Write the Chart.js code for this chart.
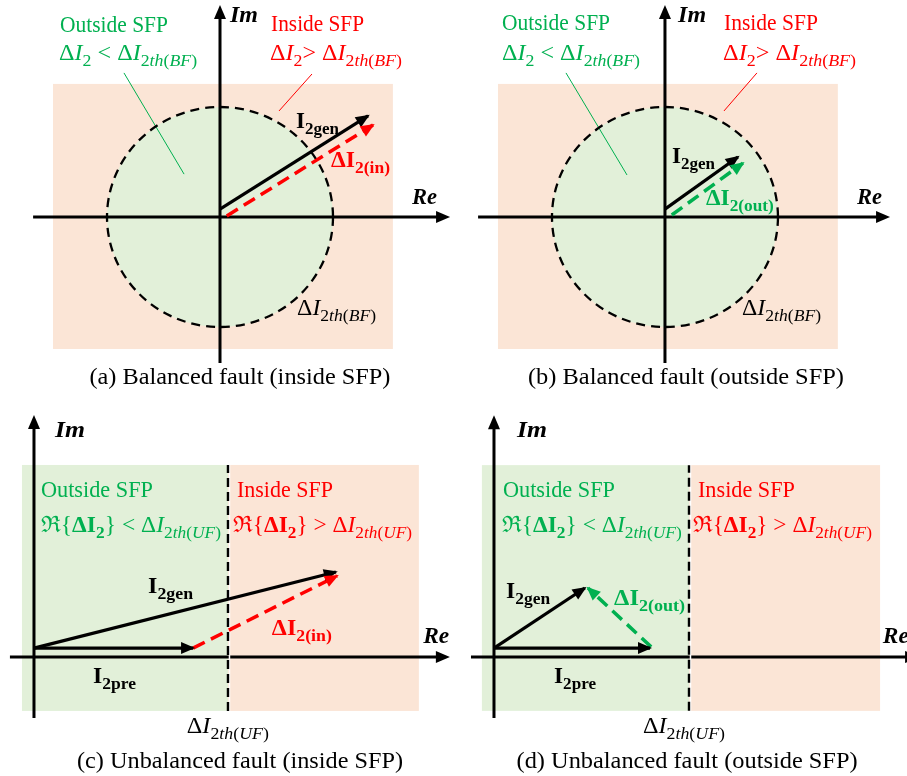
<!DOCTYPE html>
<html>
<head>
<meta charset="utf-8">
<script src="https://cdn.jsdelivr.net/npm/chart.js@4"></script>
<style>
  body { margin: 0; background: #fff; width: 907px; height: 776px; position: relative; overflow: hidden; }
  canvas { position: absolute; }
</style>
</head>
<body>
<canvas id="pa" width="453" height="395" style="left:0;top:0"></canvas>
<canvas id="pb" width="454" height="395" style="left:453px;top:0"></canvas>
<canvas id="pc" width="453" height="381" style="left:0;top:395px"></canvas>
<canvas id="pd" width="454" height="381" style="left:453px;top:395px"></canvas>
<script>
// Thresholds
const thBF = 5;   // ΔI2th(BF), circle radius
const thUF = 5;   // ΔI2th(UF), real-part limit

// Phasors [start, end] in (Re, Im)
const genA = [[0, 0.36], [6.55, 4.6]];
const dA   = [[0.3, 0.05], [6.77, 4.18]];
const genB = [[0, 0.36], [3.23, 2.73]];
const dB   = [[0.3, 0.09], [3.45, 2.45]];
const preC = [[0, 0.23], [4.1, 0.23]];
const genC = [[0, 0.23], [7.78, 2.19]];
const dC   = [[4.1, 0.23], [7.81, 2.09]];
const preD = [[0, 0.23], [4.0, 0.23]];
const genD = [[0, 0.23], [2.33, 1.77]];
const dD   = [[4.03, 0.26], [2.41, 1.77]];

// Colours
const black = "#000000";
const green = "#00B050";
const red = "#FF0000";
const greenFill = "#E2F0D9";
const pinkFill = "#FBE5D6";

const fam = '"Liberation Serif", "DejaVu Serif", serif';

// rich text pieces: r regular, i italic, b bold, bi bold italic, s* subscript
const mBF = (op) => [["Δ","r"],["I","i"],["2","s"],[op,"r"],["Δ","r"],["I","i"],["2","s"],["th","si"],["(","s"],["BF","si"],[")","s"]];
const mUF = (op) => [["ℜ{","r"],["ΔI","b"],["2","sb"],["} " + op + " ","r"],["Δ","r"],["I","i"],["2","s"],["th","si"],["(","s"],["UF","si"],[")","s"]];
const thLabel = (t) => [["Δ","r"],["I","i"],["2","s"],["th","si"],["(","s"],[t,"si"],[")","s"]];
const vec = (main, sub) => [[main,"b"],[sub,"sb"]];

function fontFor(st, fs) {
  const sub = st.startsWith("s");
  const size = sub ? fs * 0.74 : fs;
  const b = st.includes("b") ? "bold " : "";
  const i = st.includes("i") ? "italic " : "";
  return i + b + size + "px " + fam;
}

function drawLabel(chart, lb) {
  const { ctx, scales: { x, y } } = chart;
  const px = x.getPixelForValue(lb.at[0]);
  const py = y.getPixelForValue(lb.at[1]);
  const fs = lb.fs || 22.5;
  ctx.save();
  ctx.fillStyle = lb.color || black;
  ctx.textBaseline = "alphabetic";
  let nat = 0;
  lb.parts.forEach(([t, st]) => { ctx.font = fontFor(st, fs); nat += ctx.measureText(t).width; });
  const k = lb.w ? lb.w / nat : 1;
  const left = lb.align === "center" ? px - nat * k / 2 : px;
  ctx.translate(left, py);
  ctx.scale(k, 1);
  let cx = 0;
  lb.parts.forEach(([t, st]) => {
    ctx.font = fontFor(st, fs);
    ctx.fillText(t, cx, st.startsWith("s") ? fs * 0.26 : 0);
    cx += ctx.measureText(t).width;
  });
  ctx.restore();
}

function arrowHead(ctx, x0, y0, x1, y1, color, len, half) {
  const a = Math.atan2(y1 - y0, x1 - x0);
  const c = Math.cos(a), s = Math.sin(a);
  const tx = x1 + c * 2, ty = y1 + s * 2;
  ctx.save();
  ctx.fillStyle = color;
  ctx.beginPath();
  ctx.moveTo(tx, ty);
  ctx.lineTo(tx - len * c + half * s, ty - len * s - half * c);
  ctx.lineTo(tx - len * c - half * s, ty - len * s + half * c);
  ctx.closePath();
  ctx.fill();
  ctx.restore();
}

function sketchPlugin(p) {
  return {
    id: "sketch",
    beforeDatasetsDraw(chart) {
      const { ctx, scales: { x, y } } = chart;
      const X = v => x.getPixelForValue(v), Y = v => y.getPixelForValue(v);
      ctx.save();
      // regions
      p.rects.forEach(([x0, x1, y0, y1, col]) => {
        ctx.fillStyle = col;
        ctx.fillRect(X(x0), Y(y1), X(x1) - X(x0), Y(y0) - Y(y1));
      });
      // circle threshold
      if (p.circle) {
        const cx = X(0), cy = Y(0);
        const rx = X(p.circle) - cx, ry = cy - Y(p.circle);
        ctx.fillStyle = greenFill;
        ctx.beginPath(); ctx.ellipse(cx, cy, rx, ry, 0, 0, Math.PI * 2); ctx.fill();
      }
      // leader lines
      p.leaders.forEach(([a, b, col]) => {
        ctx.strokeStyle = col; ctx.lineWidth = 1;
        ctx.beginPath(); ctx.moveTo(X(a[0]), Y(a[1])); ctx.lineTo(X(b[0]), Y(b[1])); ctx.stroke();
      });
      // axes
      ctx.strokeStyle = black; ctx.lineWidth = 3;
      ctx.beginPath();
      ctx.moveTo(X(p.axes.h[0]), Y(0)); ctx.lineTo(X(p.axes.h[1]) - 8, Y(0));
      ctx.moveTo(X(0), Y(p.axes.v[0])); ctx.lineTo(X(0), Y(p.axes.v[1]) + 8);
      ctx.stroke();
      arrowHead(ctx, X(0), Y(0), X(p.axes.h[1]) - 2, Y(0), black, 14, 6);
      arrowHead(ctx, X(0), Y(0), X(0), Y(p.axes.v[1]) + 2, black, 14, 6);
      // circle outline
      if (p.circle) {
        const cx = X(0), cy = Y(0);
        const rx = X(p.circle) - cx, ry = cy - Y(p.circle);
        ctx.strokeStyle = black; ctx.lineWidth = 2.3; ctx.setLineDash([9, 6]);
        ctx.beginPath(); ctx.ellipse(cx, cy, rx, ry, 0, 0, Math.PI * 2); ctx.stroke();
        ctx.setLineDash([]);
      }
      // vertical threshold line
      if (p.vline) {
        const vx = X(p.vline[0]);
        ctx.strokeStyle = "#fff"; ctx.lineWidth = 1.5;
        ctx.beginPath(); ctx.moveTo(vx + 1.5, Y(p.vline[1])); ctx.lineTo(vx + 1.5, Y(p.vline[2])); ctx.stroke();
        ctx.strokeStyle = black; ctx.lineWidth = 2.4; ctx.setLineDash([9, 5]);
        ctx.beginPath(); ctx.moveTo(vx, Y(p.vline[1])); ctx.lineTo(vx, Y(p.vline[2])); ctx.stroke();
        ctx.setLineDash([]);
      }
      ctx.restore();
    },
    afterDatasetsDraw(chart) {
      const { ctx } = chart;
      chart.data.datasets.forEach((ds, i) => {
        const pts = chart.getDatasetMeta(i).data;
        const a = pts[pts.length - 2], b = pts[pts.length - 1];
        arrowHead(ctx, a.x, a.y, b.x, b.y, ds.borderColor, 14, 6);
      });
      p.labels.forEach(lb => drawLabel(chart, lb));
    }
  };
}

const panels = [
  {
    id: "pa", xr: [-9.735, 10.31], yr: [-8.09, 9.864],
    rects: [[-7.39, 7.65, -6.0, 6.05, pinkFill]],
    circle: thBF,
    axes: { h: [-8.27, 10.18], v: [-6.64, 9.64] },
    leaders: [[[-4.25, 6.55], [-1.59, 1.95], green], [[4.07, 6.5], [2.61, 4.82], red]],
    vectors: [{ pts: genA, color: black }, { pts: dA, color: red, dash: true }],
    labels: [
      { at: [-7.08, 8.41], parts: [["Outside SFP","r"]], color: green, w: 108 },
      { at: [-7.12, 7.14], parts: mBF(" < "), color: green, w: 138 },
      { at: [2.26, 8.45], parts: [["Inside SFP","r"]], color: red, w: 93 },
      { at: [2.21, 7.14], parts: mBF("> "), color: red, w: 132 },
      { at: [0.44, 8.86], parts: [["Im","bi"]], fs: 23, w: 28 },
      { at: [8.5, 0.59], parts: [["Re","bi"]], fs: 23, w: 25 },
      { at: [3.36, 4.05], parts: vec("I","2gen"), fs: 23, w: 43 },
      { at: [4.91, 2.27], parts: vec("ΔI","2(in)"), color: red, fs: 23, w: 59 },
      { at: [3.41, -4.45], parts: thLabel("BF"), w: 79 },
      { at: [0.88, -7.59], parts: [["(a) Balanced fault (inside SFP)","r"]], fs: 23.5, w: 301, align: "center" }
    ]
  },
  {
    id: "pb", xr: [-9.38, 10.71], yr: [-8.09, 9.864],
    rects: [[-7.39, 7.65, -6.0, 6.05, pinkFill]],
    circle: thBF,
    axes: { h: [-8.27, 9.96], v: [-6.64, 9.64] },
    leaders: [[[-4.38, 6.55], [-1.68, 1.91], green], [[4.07, 6.55], [2.61, 4.82], red]],
    vectors: [{ pts: genB, color: black }, { pts: dB, color: green, dash: true }],
    labels: [
      { at: [-7.21, 8.5], parts: [["Outside SFP","r"]], color: green, w: 108 },
      { at: [-7.21, 7.14], parts: mBF(" < "), color: green, w: 138 },
      { at: [2.61, 8.5], parts: [["Inside SFP","r"]], color: red, w: 94 },
      { at: [2.57, 7.14], parts: mBF("> "), color: red, w: 133 },
      { at: [0.58, 8.86], parts: [["Im","bi"]], fs: 23, w: 28 },
      { at: [8.5, 0.59], parts: [["Re","bi"]], fs: 23, w: 25 },
      { at: [0.31, 2.45], parts: vec("I","2gen"), fs: 23, w: 43 },
      { at: [1.81, 0.55], parts: vec("ΔI","2(out)"), color: green, fs: 23, w: 68 },
      { at: [3.41, -4.45], parts: thLabel("BF"), w: 79 },
      { at: [0.93, -7.59], parts: [["(b) Balanced fault (outside SFP)","r"]], fs: 23.5, w: 316, align: "center" }
    ]
  },
  {
    id: "pc", xr: [-0.876, 10.8], yr: [-3.067, 6.753],
    rects: [[-0.31, thUF, -1.39, 4.95, greenFill], [thUF, 9.92, -1.39, 4.95, pinkFill]],
    vline: [thUF, -1.39, 4.95],
    axes: { h: [-0.62, 10.72], v: [-1.57, 6.24] },
    leaders: [],
    vectors: [{ pts: preC, color: black }, { pts: genC, color: black }, { pts: dC, color: red, dash: true }],
    labels: [
      { at: [0.18, 4.12], parts: [["Outside SFP","r"]], color: green, w: 112 },
      { at: [0.18, 3.22], parts: mUF("<"), color: green, w: 180 },
      { at: [5.23, 4.12], parts: [["Inside SFP","r"]], color: red, w: 96 },
      { at: [5.13, 3.22], parts: mUF(">"), color: red, w: 179 },
      { at: [0.54, 5.67], parts: [["Im","bi"]], fs: 23, w: 30 },
      { at: [10.03, 0.36], parts: [["Re","bi"]], fs: 23, w: 26 },
      { at: [2.94, 1.65], parts: vec("I","2gen"), fs: 23, w: 45 },
      { at: [1.52, -0.67], parts: vec("I","2pre"), fs: 23, w: 43 },
      { at: [6.13, 0.57], parts: vec("ΔI","2(in)"), color: red, fs: 23, w: 60 },
      { at: [3.94, -1.96], parts: thLabel("UF"), w: 82 },
      { at: [5.31, -2.86], parts: [["(c) Unbalanced fault (inside SFP)","r"]], fs: 23.5, w: 326, align: "center" }
    ]
  },
  {
    id: "pd", xr: [-1.051, 10.59], yr: [-3.05, 6.718],
    rects: [[-0.31, thUF, -1.38, 4.92, greenFill], [thUF, 9.9, -1.38, 4.92, pinkFill]],
    vline: [thUF, -1.38, 4.92],
    axes: { h: [-0.59, 10.9], v: [-1.56, 6.2] },
    leaders: [],
    vectors: [{ pts: preD, color: black }, { pts: genD, color: black }, { pts: dD, color: green, dash: true }],
    labels: [
      { at: [0.23, 4.1], parts: [["Outside SFP","r"]], color: green, w: 112 },
      { at: [0.2, 3.2], parts: mUF("<"), color: green, w: 180 },
      { at: [5.23, 4.1], parts: [["Inside SFP","r"]], color: red, w: 97 },
      { at: [5.1, 3.2], parts: mUF(">"), color: red, w: 179 },
      { at: [0.59, 5.64], parts: [["Im","bi"]], fs: 23, w: 30 },
      { at: [9.97, 0.36], parts: [["Re","bi"]], fs: 23, w: 26 },
      { at: [0.31, 1.51], parts: vec("I","2gen"), fs: 23, w: 44 },
      { at: [3.08, 1.33], parts: vec("ΔI","2(out)"), color: green, fs: 23, w: 71 },
      { at: [1.54, -0.67], parts: vec("I","2pre"), fs: 23, w: 42 },
      { at: [3.82, -1.96], parts: thLabel("UF"), w: 82 },
      { at: [4.95, -2.85], parts: [["(d) Unbalanced fault (outside SFP)","r"]], fs: 23.5, w: 341, align: "center" }
    ]
  }
];

panels.forEach(p => {
  new Chart(document.getElementById(p.id), {
    type: "scatter",
    data: {
      datasets: p.vectors.map(v => ({
        data: v.pts.map(([x, y]) => ({ x, y })),
        showLine: true,
        borderColor: v.color,
        borderWidth: v.dash ? 3.5 : 3.2,
        borderDash: v.dash ? [13, 7] : [],
        pointRadius: 0,
        fill: false,
        clip: false
      }))
    },
    options: {
      responsive: false,
      animation: false,
      events: [],
      layout: { padding: 0 },
      plugins: { legend: { display: false }, tooltip: { enabled: false } },
      scales: {
        x: { type: "linear", min: p.xr[0], max: p.xr[1], display: false },
        y: { type: "linear", min: p.yr[0], max: p.yr[1], display: false }
      }
    },
    plugins: [sketchPlugin(p)]
  });
});
</script>
</body>
</html>
